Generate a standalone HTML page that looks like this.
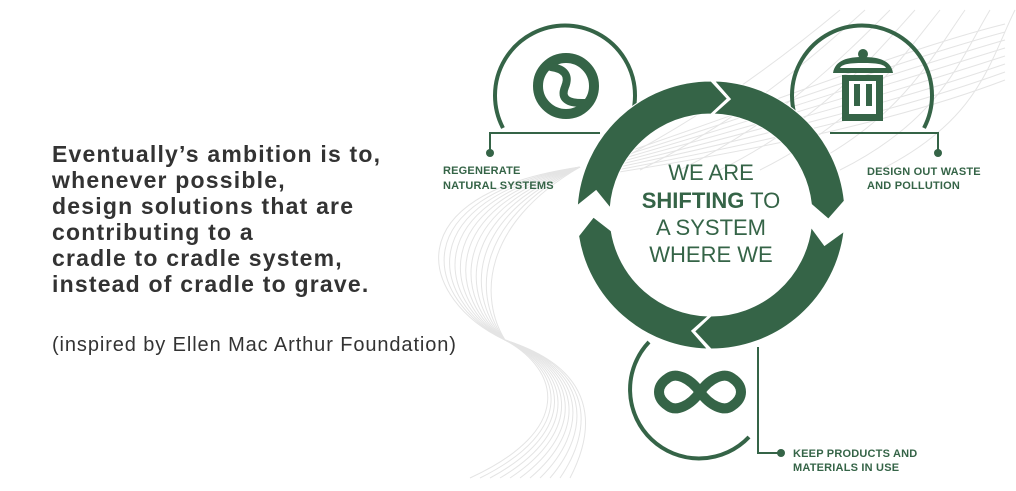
<!DOCTYPE html>
<html><head><meta charset="utf-8"><style>
html,body{margin:0;padding:0;background:#fff;}
body{width:1016px;height:491px;position:relative;overflow:hidden;font-family:"Liberation Sans",sans-serif;}
.q{position:absolute;left:52px;top:141px;font-size:23px;font-weight:bold;line-height:26px;color:#333;letter-spacing:1.2px;}
.src{position:absolute;left:52px;top:334px;font-size:20px;line-height:22px;color:#333;letter-spacing:0.9px;}
svg{position:absolute;left:0;top:0;}
.lbl{font-family:"Liberation Sans",sans-serif;font-size:11px;font-weight:bold;fill:#356447;letter-spacing:0.2px;}
.ct{font-family:"Liberation Sans",sans-serif;font-size:22px;fill:#356447;text-anchor:middle;}
</style></head><body>
<svg width="1016" height="491" viewBox="0 0 1016 491">
<g id="bg" fill="none" stroke="#e4e4e4" stroke-width="1"></g>
<g fill="none" stroke="#356447" stroke-width="4">
  <path d="M503 128 A70 70 0 1 1 627 128"/>
  <path d="M800 128 A70 70 0 1 1 924 128"/>
  <path d="M649 342 A68 68 0 0 0 749 437"/>
</g>
<g fill="none" stroke="#356447" stroke-width="2">
  <path d="M600 133 H490 V150"/>
  <path d="M830 133 H938 V150"/>
  <path d="M758 347 V453 H778"/>
</g>
<g fill="#356447">
  <circle cx="490" cy="153" r="4"/>
  <circle cx="938" cy="153" r="4"/>
  <circle cx="781" cy="453" r="4"/>
</g>
<!-- regenerate icon -->
<circle cx="566" cy="86" r="28" fill="none" stroke="#356447" stroke-width="10"/>
<path d="M551 67 Q572 70 565 87 Q558 104 585 103" fill="none" stroke="#356447" stroke-width="8" stroke-linecap="round"/>
<!-- trash -->
<g fill="#356447">
  <circle cx="863" cy="54" r="5"/>
  <path d="M833 73 C835 60 848 57 863 57 C878 57 891 60 893 73 Z"/>
  <rect x="842" y="75" width="41" height="46"/>
</g>
<rect x="849" y="81" width="27" height="33" fill="#fff"/>
<rect x="854" y="84" width="6" height="22" fill="#356447"/>
<rect x="866" y="84" width="6" height="22" fill="#356447"/>
<path d="M840 68 C842 64 850 63 863 63 C876 63 884 64 886 68 Z" fill="#fff"/>
<!-- infinity -->
<path d="M700 392 C690 378 676 372 668 378 C656 386 656 398 668 406 C676 412 690 406 700 392 C710 378 724 372 732 378 C744 386 744 398 732 406 C724 412 710 406 700 392 Z" fill="none" stroke="#356447" stroke-width="10"/>
<g id="ring" fill="#356447" stroke="#fff" stroke-width="1"></g>
<text class="ct" x="711" y="180">WE ARE</text>
<text class="ct" x="711" y="208"><tspan font-weight="bold">SHIFTING</tspan> TO</text>
<text class="ct" x="711" y="235">A SYSTEM</text>
<text class="ct" x="711" y="262">WHERE WE</text>
<text class="lbl" x="443" y="174">REGENERATE</text>
<text class="lbl" x="443" y="189">NATURAL SYSTEMS</text>
<text class="lbl" x="867" y="175">DESIGN OUT WASTE</text>
<text class="lbl" x="867" y="189">AND POLLUTION</text>
<text class="lbl" x="793" y="457">KEEP PRODUCTS AND</text>
<text class="lbl" x="793" y="471">MATERIALS IN USE</text>
</svg>
<div class="q">Eventually’s ambition is to,<br>whenever possible,<br>design solutions that are<br>contributing to a<br>cradle to cradle system,<br>instead of cradle to grave.</div>
<div class="src">(inspired by Ellen Mac Arthur Foundation)</div>
<script>
(function(){
var cx=711,cy=215,R=134,r=101,m=117.5,d=8;
function p(rad,a){a=a*Math.PI/180;return (cx+rad*Math.cos(a)).toFixed(1)+' '+(cy+rad*Math.sin(a)).toFixed(1);}
var segs=[[271.5,354],[367,450],[451.5,531],[544,630]];
var g=document.getElementById('ring'),s='';
segs.forEach(function(q){var a0=q[0],a1=q[1];
 s+='<path d="M'+p(R,a0)+' A'+R+' '+R+' 0 0 1 '+p(R,a1)+' L'+p(m,a1+d)+' L'+p(r,a1)+' A'+r+' '+r+' 0 0 0 '+p(r,a0)+' L'+p(m,a0+d)+' Z"/>';});
g.innerHTML=s;
var b='';
for(var k=0;k<11;k++){
 b+='<path d="M580 167 C'+(390+k*9)+' '+(195+k*3)+' '+(420+k*6)+' 300 505 340 C'+(560+k*4)+' 370 '+(575+k*2)+' 430 '+(470+k*10)+' 478"/>';
}
for(var j=0;j<8;j++){
 b+='<path d="M'+(600+j*40)+' 170 C'+(700+j*40)+' 120 '+(780+j*30)+' 60 '+(840+j*25)+' 10"/>';
 b+='<path d="M'+(600)+' '+(175-j*2)+' C760 '+(150-j*6)+' 900 '+(120-j*10)+' 1005 '+(80-j*8)+'"/>';
}
document.getElementById('bg').innerHTML=b;
})();
</script>
</body></html>
